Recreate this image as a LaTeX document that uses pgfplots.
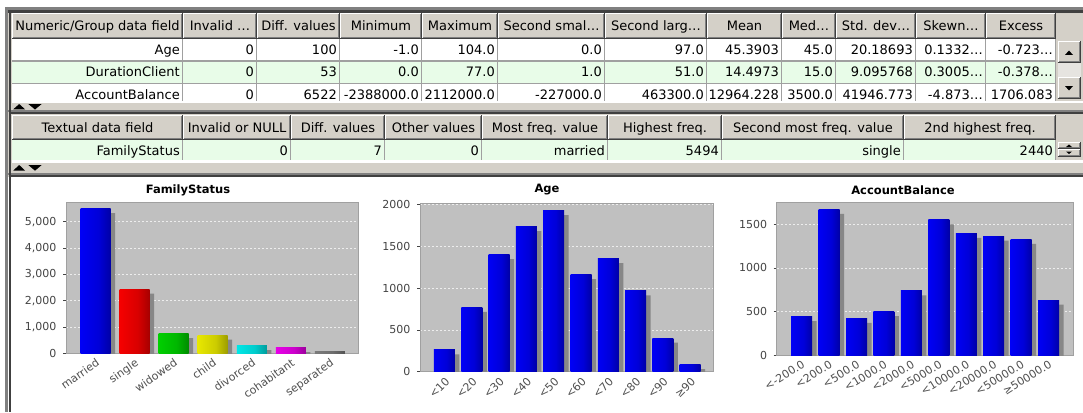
\documentclass[border=0pt]{standalone}
\usepackage{fontspec}
\setmainfont{DejaVu Sans}
\usepackage{pgfplots}
\pgfplotsset{compat=1.18}

\definecolor{wingray}{HTML}{D4D0C8}
\definecolor{darkline}{HTML}{404040}
\definecolor{midline}{HTML}{808080}
\definecolor{gridln}{HTML}{A0A0A0}
\definecolor{rowgreen}{HTML}{E8FCE8}
\definecolor{plotbg}{HTML}{C0C0C0}
\definecolor{shadowgray}{HTML}{878787}
\definecolor{ticgray}{HTML}{444444}
\definecolor{labgray}{HTML}{505050}
\definecolor{trackgray}{HTML}{E6E4E0}
\definecolor{cblue}{RGB}{0,0,255}
\definecolor{cred}{RGB}{255,0,0}
\definecolor{cgreen}{RGB}{0,215,0}
\definecolor{cyellow}{RGB}{240,240,0}
\definecolor{ccyan}{RGB}{0,240,240}
\definecolor{cmagenta}{RGB}{240,0,240}
\definecolor{cgray}{RGB}{128,128,128}

\newcommand\mkshade[2]{\pgfdeclarehorizontalshading{#1}{100bp}{color(0bp)=(#2!45!white); color(5bp)=(#2!45!white); color(7bp)=(#2!10!white); color(11bp)=(#2!10!white); color(15bp)=(#2); color(55bp)=(#2!85!black); color(100bp)=(#2!40!black)}}
\mkshade{shblue}{cblue}
\mkshade{shred}{cred}
\mkshade{shgreen}{cgreen}
\mkshade{shyellow}{cyellow}
\mkshade{shcyan}{ccyan}
\mkshade{shmagenta}{cmagenta}
\mkshade{shgray}{cgray}

\newcommand\tf{\fontsize{13}{15}\selectfont}
% header cell: x1 x2 y1 y2 baseline text
\newcommand\hc[6]{%
  \fill[wingray] (#1,-#3) rectangle (#2,-#4);
  \draw[white,line width=1pt] (#1+0.5,-#4+1) -- (#1+0.5,-#3-0.5) -- (#2-1,-#3-0.5);
  \draw[midline,line width=1pt] (#1+1,-#4+1.5) -- (#2-1.5,-#4+1.5) -- (#2-1.5,-#3-1);
  \draw[darkline,line width=1pt] (#1,-#4+0.5) -- (#2-0.5,-#4+0.5) -- (#2-0.5,-#3);
  \node[font=\tf,anchor=base,inner sep=0pt] at ({(#1+#2)/2},-#5) {#6};}
% button: x1 x2 y1 y2
\newcommand\btn[4]{%
  \fill[wingray] (#1,-#3) rectangle (#2,-#4);
  \draw[white,line width=1pt] (#1+0.5,-#4+1) -- (#1+0.5,-#3-0.5) -- (#2-1,-#3-0.5);
  \draw[midline,line width=1pt] (#1+1,-#4+1.5) -- (#2-1.5,-#4+1.5) -- (#2-1.5,-#3-1);
  \draw[darkline,line width=1pt] (#1,-#4+0.5) -- (#2-0.5,-#4+0.5) -- (#2-0.5,-#3);}
% body cell: right x, baseline, text
\newcommand\bc[3]{\node[font=\tf,anchor=base east,inner sep=0pt] at (#1-3,-#2) {#3};}

\pgfplotsset{
  mychart/.style={
    scale only axis, anchor=south west, ymin=0,
    axis background/.style={fill=plotbg},
    axis line style={draw=gridln, line width=0.8pt},
    ymajorgrids,
    major grid style={draw=white!93!black, dash pattern=on 2pt off 2pt, line width=0.7pt},
    ytick pos=left, xtick style={draw=none},
    ytick style={draw=ticgray, line width=0.6pt},
    tick align=outside, major tick length=3pt,
    yticklabel style={font=\fontsize{11}{13}\selectfont, text=ticgray, xshift=-3pt},
    xticklabel style={font=\fontsize{11}{13}\selectfont, text=labgray, anchor=north east, inner sep=1pt},
    scaled y ticks=false,
    /pgf/number format/assume math mode=true,
  },
  shadowbar/.style={ybar, bar shift=4.5pt, fill=shadowgray, draw=none, yshift=-4.5pt},
  mainbar/.style={ybar, bar shift=0pt, draw=none, shading=#1},
}

\begin{document}
\begin{tikzpicture}[x=1pt,y=1pt]
\useasboundingbox (0,0) rectangle (1083,-412);
\fill[white] (0,0) rectangle (1083,-412);
% upper window area
\fill[wingray] (5,-7) rectangle (1083,-177);

% ---------- table 1 ----------
\begin{scope}
\clip (0,-12) rectangle (1083,-100.7);
\fill[white] (12,-39) rectangle (1056,-61);
\fill[rowgreen] (12,-61) rectangle (1056,-83);
\fill[white] (12,-83) rectangle (1056,-101);
\foreach \xx in {183,257,340,422,498,605,707,782,836,916,986,1056}
  \draw[gridln,line width=1pt] (\xx-0.5,-39) -- (\xx-0.5,-101);
\draw[gridln,line width=1pt] (12,-61) -- (1056,-61);
\draw[gridln,line width=1pt] (12,-83) -- (1056,-83);
\hc{12}{183}{13}{39}{31}{Numeric/Group data field}
\hc{183}{257}{13}{39}{31}{Invalid …}
\hc{257}{340}{13}{39}{31}{Diff. values}
\hc{340}{422}{13}{39}{31}{Minimum}
\hc{422}{498}{13}{39}{31}{Maximum}
\hc{498}{605}{13}{39}{31}{Second smal…}
\hc{605}{707}{13}{39}{31}{Second larg…}
\hc{707}{782}{13}{39}{31}{Mean}
\hc{782}{836}{13}{39}{31}{Med…}
\hc{836}{916}{13}{39}{31}{Std. dev…}
\hc{916}{986}{13}{39}{31}{Skewn…}
\hc{986}{1056}{13}{39}{31}{Excess}
% row 1
\bc{183}{55}{Age}\bc{257}{55}{0}\bc{340}{55}{100}\bc{422}{55}{-1.0}\bc{498}{55}{104.0}
\bc{605}{55}{0.0}\bc{707}{55}{97.0}\bc{782}{55}{45.3903}\bc{836}{55}{45.0}
\bc{916}{55}{20.18693}\bc{986}{55}{0.1332…}\bc{1056}{55}{-0.723…}
% row 2
\bc{183}{77}{DurationClient}\bc{257}{77}{0}\bc{340}{77}{53}\bc{422}{77}{0.0}\bc{498}{77}{77.0}
\bc{605}{77}{1.0}\bc{707}{77}{51.0}\bc{782}{77}{14.4973}\bc{836}{77}{15.0}
\bc{916}{77}{9.095768}\bc{986}{77}{0.3005…}\bc{1056}{77}{-0.378…}
% row 3
\bc{183}{99}{AccountBalance}\bc{257}{99}{0}\bc{340}{99}{6522}\bc{422}{99}{-2388000.0}\bc{498}{99}{2112000.0}
\bc{605}{99}{-227000.0}\bc{707}{99}{463300.0}\bc{782}{99}{12964.228}\bc{836}{99}{3500.0}
\bc{916}{99}{41946.773}\bc{986}{99}{-4.873…}\bc{1056}{99}{1706.083}
\end{scope}
% scrollbar
\fill[wingray] (1056,-13) rectangle (1083,-100.7);
\btn{1057.5}{1080.5}{41.5}{63}
\fill[black] (1065,-55) -- (1073,-55) -- (1069,-50.5) -- cycle;
\fill[trackgray] (1057.5,-63) rectangle (1080.5,-77);
\btn{1057.5}{1080.5}{77}{98.5}
\fill[black] (1065,-86) -- (1073,-86) -- (1069,-90.5) -- cycle;
% strip + splitter
\fill[white] (12,-100.7) rectangle (1083,-102.7);
\fill[black] (13.3,-109.3) -- (25,-109.3) -- (19.2,-104) -- cycle;
\fill[black] (28.3,-104) -- (41.7,-104) -- (35,-109.5) -- cycle;
\draw[midline,line width=1.5pt] (5,-111.2) -- (1083,-111.2);
\draw[darkline,line width=1.8pt] (9,-113.3) -- (1083,-113.3);

% ---------- table 2 ----------
\fill[rowgreen] (12,-140) rectangle (1056,-160);
\foreach \xx in {183,291,385,482,608,722,904,1056}
  \draw[gridln,line width=1pt] (\xx-0.5,-140) -- (\xx-0.5,-160);
\hc{12}{183}{115}{140}{132.5}{Textual data field}
\hc{183}{291}{115}{140}{132.5}{Invalid or NULL}
\hc{291}{385}{115}{140}{132.5}{Diff. values}
\hc{385}{482}{115}{140}{132.5}{Other values}
\hc{482}{608}{115}{140}{132.5}{Most freq. value}
\hc{608}{722}{115}{140}{132.5}{Highest freq.}
\hc{722}{904}{115}{140}{132.5}{Second most freq. value}
\hc{904}{1056}{115}{140}{132.5}{2nd highest freq.}
\bc{183}{155}{FamilyStatus}\bc{291}{155}{0}\bc{385}{155}{7}\bc{482}{155}{0}
\bc{608}{155}{married}\bc{722}{155}{5494}\bc{904}{155}{single}\bc{1056}{155}{2440}
\btn{1057.5}{1080.5}{141.5}{149.2}
\fill[black] (1066,-147) -- (1072,-147) -- (1069,-144.5) -- cycle;
\btn{1057.5}{1080.5}{149.2}{157}
\fill[black] (1066,-151.5) -- (1072,-151.5) -- (1069,-154) -- cycle;
\fill[white] (12,-160) rectangle (1083,-163);
\fill[black] (13.3,-170.5) -- (25,-170.5) -- (19.2,-165) -- cycle;
\fill[black] (28.3,-165) -- (41.7,-165) -- (35,-170.7) -- cycle;
\draw[midline,line width=1.5pt] (5,-174) -- (1083,-174);
\draw[darkline,line width=1.8pt] (9,-176.2) -- (1083,-176.2);

% frame lines
\draw[midline,line width=2.7pt] (5,-8.6) -- (1083,-8.6);
\draw[darkline,line width=2.7pt] (8,-11.3) -- (1083,-11.3);
\draw[midline,line width=3pt] (6.5,-7) -- (6.5,-412);
\draw[darkline,line width=2.5pt] (9.8,-10) -- (9.8,-412);

% ---------- chart titles ----------
\node[font=\fontsize{11.5}{13}\selectfont\bfseries] at (188,-190) {FamilyStatus};
\node[font=\fontsize{11.5}{13}\selectfont\bfseries] at (547,-190) {Age};
\node[font=\fontsize{11.5}{13}\selectfont\bfseries] at (903,-190) {AccountBalance};

% ---------- FamilyStatus ----------
\begin{axis}[mychart, at={(66pt,-353.3pt)}, width=292pt, height=151.3pt,
  xmin=-0.756, xmax=6.72, ymax=5746, ytick={0,1000,2000,3000,4000,5000},
  xtick={0,1,2,3,4,5,6},
  xticklabels={married,single,widowed,child,divorced,cohabitant,separated},
  xticklabel style={rotate=35}]
\addplot[shadowbar, bar width=30pt] coordinates {(0,5494) (1,2440) (2,745) (3,695) (4,290) (5,215) (6,60)};
\addplot[mainbar=shblue, bar width=30pt] coordinates {(0,5494)};
\addplot[mainbar=shred, bar width=30pt] coordinates {(1,2440)};
\addplot[mainbar=shgreen, bar width=30pt] coordinates {(2,745)};
\addplot[mainbar=shyellow, bar width=30pt] coordinates {(3,695)};
\addplot[mainbar=shcyan, bar width=30pt] coordinates {(4,290)};
\addplot[mainbar=shmagenta, bar width=30pt] coordinates {(5,215)};
\addplot[mainbar=shgray, bar width=30pt] coordinates {(6,60)};
\end{axis}

% ---------- Age ----------
\begin{axis}[mychart, at={(420pt,-371.7pt)}, width=293pt, height=168.7pt,
  xmin=-0.897, xmax=9.835, ymax=2016, ytick={0,500,1000,1500,2000},
  /pgf/number format/1000 sep={},
  xtick={0,1,2,3,4,5,6,7,8,9},
  xticklabels={<10,<20,<30,<40,<50,<60,<70,<80,<90,≥90},
  xticklabel style={rotate=45}]
\addplot[shadowbar, bar width=21pt] coordinates {(0,260) (1,770) (2,1400) (3,1735) (4,1925) (5,1160) (6,1350) (7,965) (8,400) (9,85)};
\addplot[mainbar=shblue, bar width=21pt] coordinates {(0,260)};
\addplot[mainbar=shblue, bar width=21pt] coordinates {(1,770)};
\addplot[mainbar=shblue, bar width=21pt] coordinates {(2,1400)};
\addplot[mainbar=shblue, bar width=21pt] coordinates {(3,1735)};
\addplot[mainbar=shblue, bar width=21pt] coordinates {(4,1925)};
\addplot[mainbar=shblue, bar width=21pt] coordinates {(5,1160)};
\addplot[mainbar=shblue, bar width=21pt] coordinates {(6,1350)};
\addplot[mainbar=shblue, bar width=21pt] coordinates {(7,965)};
\addplot[mainbar=shblue, bar width=21pt] coordinates {(8,400)};
\addplot[mainbar=shblue, bar width=21pt] coordinates {(9,85)};
\end{axis}

% ---------- AccountBalance ----------
\begin{axis}[mychart, at={(776.7pt,-355pt)}, width=296.3pt, height=152.7pt,
  xmin=-0.91, xmax=9.89, ymax=1753, ytick={0,500,1000,1500},
  /pgf/number format/1000 sep={},
  xtick={0,1,2,3,4,5,6,7,8,9},
  xticklabels={<-200.0,<200.0,<500.0,<1000.0,<2000.0,<5000.0,<10000.0,<20000.0,<50000.0,≥50000.0},
  xticklabel style={rotate=32}]
\addplot[shadowbar, bar width=21pt] coordinates {(0,440) (1,1673) (2,421) (3,497) (4,735) (5,1550) (6,1397) (7,1366) (8,1328) (9,631)};
\addplot[mainbar=shblue, bar width=21pt] coordinates {(0,440)};
\addplot[mainbar=shblue, bar width=21pt] coordinates {(1,1673)};
\addplot[mainbar=shblue, bar width=21pt] coordinates {(2,421)};
\addplot[mainbar=shblue, bar width=21pt] coordinates {(3,497)};
\addplot[mainbar=shblue, bar width=21pt] coordinates {(4,735)};
\addplot[mainbar=shblue, bar width=21pt] coordinates {(5,1550)};
\addplot[mainbar=shblue, bar width=21pt] coordinates {(6,1397)};
\addplot[mainbar=shblue, bar width=21pt] coordinates {(7,1366)};
\addplot[mainbar=shblue, bar width=21pt] coordinates {(8,1328)};
\addplot[mainbar=shblue, bar width=21pt] coordinates {(9,631)};
\end{axis}
\end{tikzpicture}
\end{document}
